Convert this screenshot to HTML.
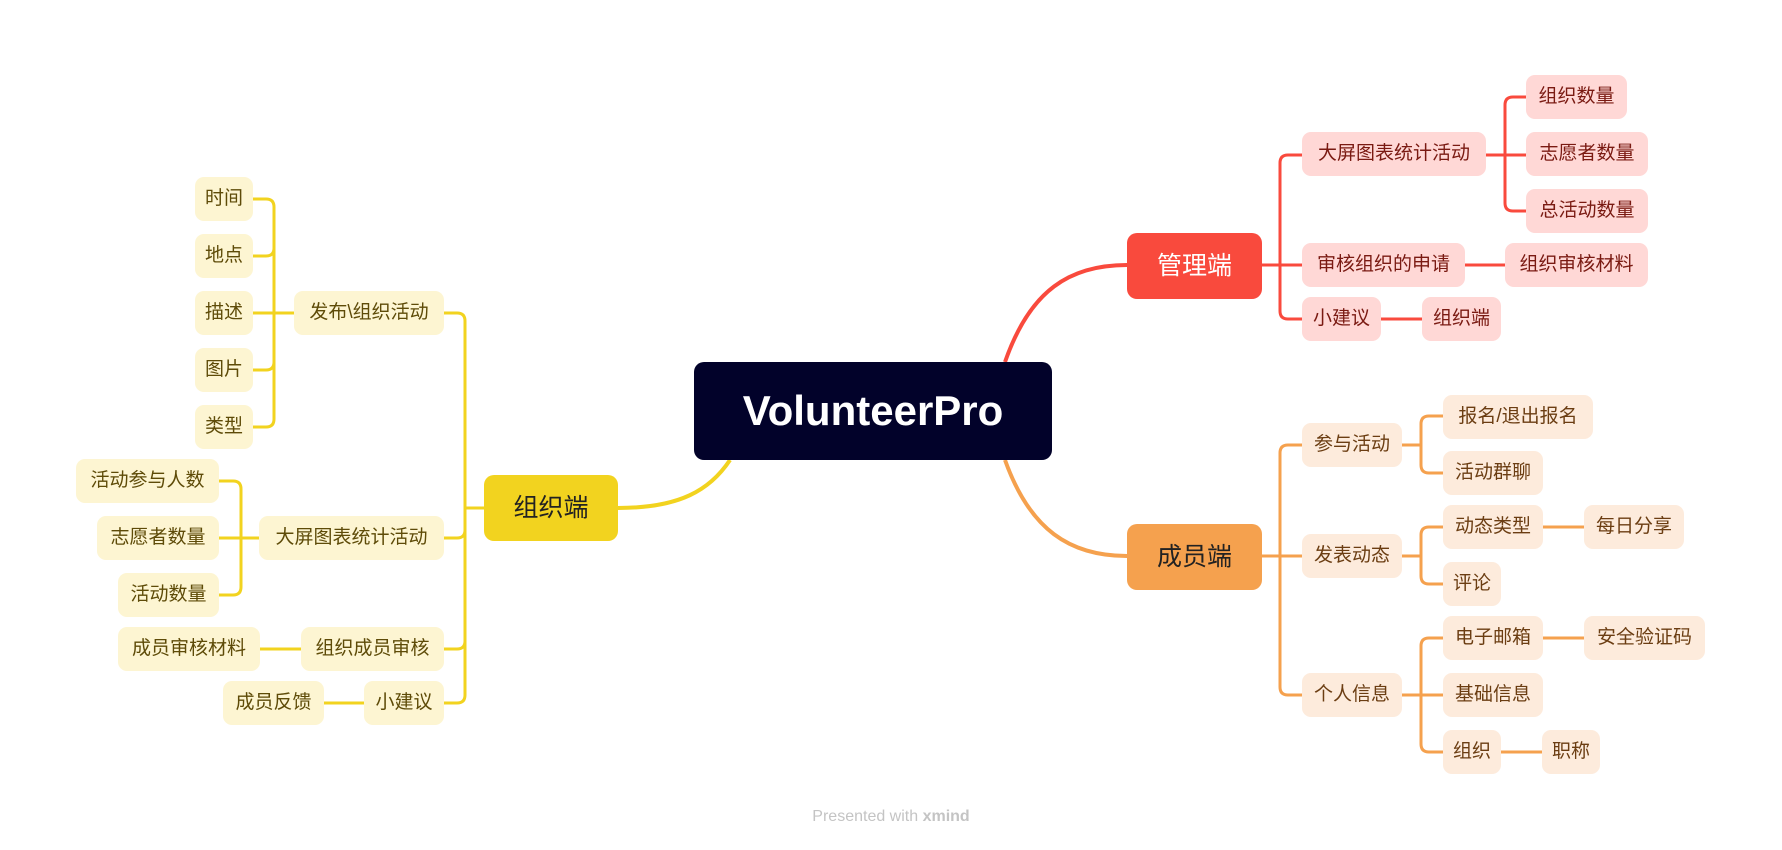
<!DOCTYPE html>
<html><head><meta charset="utf-8"><style>
body{margin:0;width:1782px;height:850px;background:#fff;position:relative;overflow:hidden;font-family:"Liberation Sans","Noto Sans CJK SC",sans-serif}
.n{position:absolute;height:44px;line-height:44px;text-align:center;font-size:19px;border-radius:9px;white-space:nowrap}
.y{background:#FDF5D2;color:#5e4b08}
.r{background:#FFD8D6;color:#7a1a12}
.o{background:#FDEBDC;color:#6b3d12}
.m{height:66px;line-height:66px;font-size:25px;border-radius:10px}
svg{position:absolute;left:0;top:0}
</style></head><body>
<svg width="1782" height="850" fill="none" stroke-width="3">
<g stroke="#F2D31F">
<path d="M294 313H253M274 313V207Q274 199 266 199H253M274 313V248Q274 256 266 256H253M274 313V362Q274 370 266 370H253M274 313V419Q274 427 266 427H253"/>
<path d="M259 538H219M241 538V489Q241 481 233 481H219M241 538V587Q241 595 233 595H219"/>
<path d="M301 649H260M364 703H324"/>
<path d="M484 508H465M465 508V321Q465 313 457 313H444M465 508V530Q465 538 457 538H444M465 508V641Q465 649 457 649H444M465 508V695Q465 703 457 703H444"/>
<path d="M618 508C680 508 710 490 730 460" stroke-width="4"/>
</g>
<g stroke="#F94A3D">
<path d="M1262 265H1302M1280 265V163Q1280 155 1288 155H1302M1280 265V311Q1280 319 1288 319H1302"/>
<path d="M1486 155H1526M1505 155V105Q1505 97 1513 97H1526M1505 155V203Q1505 211 1513 211H1526"/>
<path d="M1465 265H1505M1381 319H1422"/>
<path d="M1005 362C1030 290 1070 265 1127 265" stroke-width="4"/>
</g>
<g stroke="#F5A14E">
<path d="M1262 556H1302M1280 556V453Q1280 445 1288 445H1302M1280 556V687Q1280 695 1288 695H1302"/>
<path d="M1402 445H1421M1421 445V424Q1421 416 1429 416H1443M1421 445V465Q1421 473 1429 473H1443"/>
<path d="M1402 556H1421M1421 556V535Q1421 527 1429 527H1443M1421 556V576Q1421 584 1429 584H1443"/>
<path d="M1402 695H1443M1421 695V646Q1421 638 1429 638H1443M1421 695V744Q1421 752 1429 752H1443"/>
<path d="M1543 527H1584M1543 638H1584M1501 752H1542"/>
<path d="M1005 460C1030 530 1070 556 1127 556" stroke-width="4"/>
</g>
</svg>

<div class="n" style="left:694px;top:362px;width:358px;height:98px;line-height:98px;background:#02022a;color:#fff;font-size:42px;font-weight:bold;border-radius:10px">VolunteerPro</div>

<div class="n m" style="left:484px;top:475px;width:134px;background:#F2D31F;color:#222">组织端</div>
<div class="n y" style="left:195px;top:177px;width:58px">时间</div>
<div class="n y" style="left:195px;top:234px;width:58px">地点</div>
<div class="n y" style="left:195px;top:291px;width:58px">描述</div>
<div class="n y" style="left:195px;top:348px;width:58px">图片</div>
<div class="n y" style="left:195px;top:405px;width:58px">类型</div>
<div class="n y" style="left:294px;top:291px;width:150px">发布\组织活动</div>
<div class="n y" style="left:76px;top:459px;width:143px">活动参与人数</div>
<div class="n y" style="left:97px;top:516px;width:122px">志愿者数量</div>
<div class="n y" style="left:118px;top:573px;width:101px">活动数量</div>
<div class="n y" style="left:259px;top:516px;width:185px">大屏图表统计活动</div>
<div class="n y" style="left:118px;top:627px;width:142px">成员审核材料</div>
<div class="n y" style="left:301px;top:627px;width:143px">组织成员审核</div>
<div class="n y" style="left:223px;top:681px;width:101px">成员反馈</div>
<div class="n y" style="left:364px;top:681px;width:80px">小建议</div>

<div class="n m" style="left:1127px;top:233px;width:135px;background:#F94A3D;color:#fff">管理端</div>
<div class="n r" style="left:1302px;top:132px;width:184px">大屏图表统计活动</div>
<div class="n r" style="left:1526px;top:75px;width:101px">组织数量</div>
<div class="n r" style="left:1526px;top:132px;width:122px">志愿者数量</div>
<div class="n r" style="left:1526px;top:189px;width:122px">总活动数量</div>
<div class="n r" style="left:1302px;top:243px;width:163px">审核组织的申请</div>
<div class="n r" style="left:1505px;top:243px;width:143px">组织审核材料</div>
<div class="n r" style="left:1302px;top:297px;width:79px">小建议</div>
<div class="n r" style="left:1422px;top:297px;width:79px">组织端</div>

<div class="n m" style="left:1127px;top:524px;width:135px;background:#F5A14E;color:#222">成员端</div>
<div class="n o" style="left:1302px;top:423px;width:100px">参与活动</div>
<div class="n o" style="left:1443px;top:395px;width:150px">报名/退出报名</div>
<div class="n o" style="left:1443px;top:451px;width:100px">活动群聊</div>
<div class="n o" style="left:1302px;top:534px;width:100px">发表动态</div>
<div class="n o" style="left:1443px;top:505px;width:100px">动态类型</div>
<div class="n o" style="left:1584px;top:505px;width:100px">每日分享</div>
<div class="n o" style="left:1443px;top:562px;width:58px">评论</div>
<div class="n o" style="left:1302px;top:673px;width:100px">个人信息</div>
<div class="n o" style="left:1443px;top:616px;width:100px">电子邮箱</div>
<div class="n o" style="left:1584px;top:616px;width:121px">安全验证码</div>
<div class="n o" style="left:1443px;top:673px;width:100px">基础信息</div>
<div class="n o" style="left:1443px;top:730px;width:58px">组织</div>
<div class="n o" style="left:1542px;top:730px;width:58px">职称</div>

<div style="position:absolute;left:791px;top:808px;width:200px;text-align:center;font-size:16px;color:#c4c4c4">Presented with <b>xmind</b></div>
</body></html>
